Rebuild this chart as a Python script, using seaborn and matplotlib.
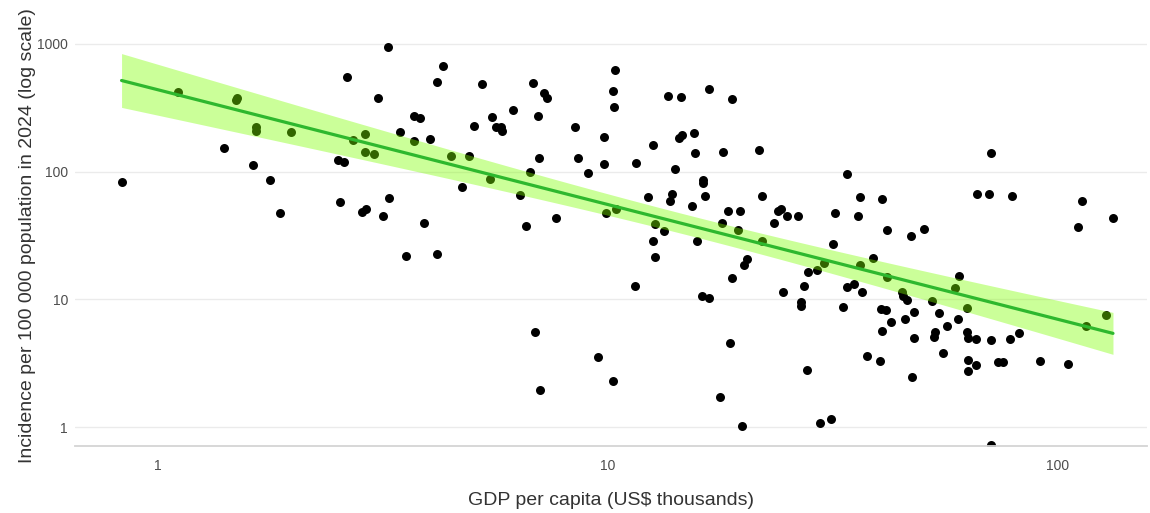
import numpy as np
import pandas as pd
import matplotlib
matplotlib.use("Agg")
import matplotlib.pyplot as plt
from matplotlib.ticker import FixedLocator, FuncFormatter, NullLocator
import seaborn as sns

# GDP per capita (US$ thousands) for each country
gdp_thousands = [
    2.63, 1.11, 1.50, 1.49, 1.65, 1.65, 1.98, 1.40, 1.63, 2.51, 2.59, 0.83, 1.77, 2.54, 1.87,
    3.25, 4.30, 4.17, 5.25, 6.81, 7.21, 7.32, 10.36, 10.26, 10.31, 3.08, 3.71, 3.82, 5.52, 6.15,
    6.99, 5.04, 5.64, 5.78, 5.81, 8.45, 3.45, 4.02, 3.71, 2.88, 2.71, 2.88, 3.02, 9.80, 4.48,
    4.91, 7.03, 8.58, 9.80, 11.54, 6.71, 9.03, 5.47, 4.74, 6.37, 3.26, 2.84, 2.90, 3.16, 3.90,
    6.57, 7.66, 9.90, 10.42,
    16.8, 13.6, 14.5, 18.9, 15.5, 14.4, 14.6, 12.6, 15.6, 18.0, 21.7, 14.1, 16.3, 16.3, 34.0,
    12.3, 13.9, 13.7, 16.4, 22.0, 15.4, 18.5, 19.7, 23.9, 24.2, 25.0, 26.4, 32.0, 35.9, 36.3,
    40.6, 23.4, 17.9, 12.7, 13.3, 19.5, 41.7,
    71.0, 66.1, 70.3, 79.0, 113.0, 132.5, 110.8, 50.4,
    47.1, 12.6, 12.7, 15.8, 22.0, 31.6, 20.4, 20.1, 18.9, 11.5, 16.2, 16.8, 24.5, 27.8, 29.1,
    30.2, 27.3, 38.8, 36.3, 41.7, 34.0, 35.2, 36.7, 45.0, 45.2, 46.2, 26.9, 26.9, 33.3, 40.4,
    41.5, 47.9, 42.6, 45.7, 40.6, 47.9, 18.7, 37.6, 40.2, 27.7, 47.4, 17.7, 19.9, 29.6, 31.3,
    60.3, 59.0, 52.5, 62.8, 54.4, 60.0, 56.7, 53.3, 53.0, 62.8, 63.1, 65.7, 71.0, 78.2, 81.9,
    55.5, 63.1, 63.1, 65.7, 73.6, 75.5, 91.2, 105.2, 115.4, 127.9, 71.0,
    3.56, 4.17, 6.88, 9.50, 10.26, 7.06,
]

# Incidence per 100 000 population in 2024, same country order
incidence = [
    550, 420, 377, 364, 223, 208, 204, 153, 113, 123, 119, 83, 86, 57.8, 47.4,
    946, 671, 503, 485, 494, 412, 377, 625, 428, 320, 377, 272, 263, 268, 304,
    272, 228, 223, 223, 208, 223, 204, 180, 174, 197, 177, 142, 137, 187, 132,
    132, 128, 128, 115, 117, 99.3, 97.5, 87.5, 75.7, 65.6, 62.1, 48.3, 51.0, 44.9, 39.6,
    37.5, 43.3, 47.4, 51.0,
    443, 391, 384, 370, 200, 183, 194, 162, 140, 142, 148, 105, 86, 81.4, 95.8,
    63.2, 66.8, 58.9, 64.4, 64.4, 53.8, 49.1, 49.1, 49.1, 51.0, 44.9, 44.9, 47.4, 44.9, 63.2,
    61.0, 39.6, 39.6, 38.9, 34.3, 34.9, 34.9,
    140, 66.8, 66.8, 64.4, 58.9, 43.3, 36.8, 35.5,
    31.3, 28.6, 21.4, 28.6, 28.6, 27.1, 20.7, 18.6, 14.7, 12.7, 10.6, 10.2, 11.4, 16.4, 17.0,
    19.2, 12.7, 21.1, 18.6, 14.9, 12.5, 13.2, 11.4, 11.4, 10.6, 9.9, 9.5, 8.9, 8.7, 8.4,
    8.2, 7.95, 6.6, 7.0, 5.6, 4.98, 4.55, 3.6, 3.29, 2.79, 2.46, 1.72, 1.02, 1.07, 1.155,
    15.2, 12.3, 9.7, 8.55, 7.8, 7.0, 6.18, 5.55, 5.07, 5.55, 4.98, 4.89, 4.80, 4.89, 5.45,
    3.8, 3.35, 2.75, 3.06, 3.23, 3.23, 3.29, 3.11, 6.18, 7.54, 0.72,
    21.8, 22.6, 5.55, 3.53, 2.29, 1.95,
]

x_ticks = [1, 10, 100]
y_ticks = [1, 10, 100, 1000]
x_label = "GDP per capita (US$ thousands)"
y_label = "Incidence per 100 000 population in 2024 (log scale)"

df = pd.DataFrame({"gdp": gdp_thousands, "incidence": incidence})

sns.set_style("white")
plt.rcParams["font.family"] = ["Liberation Sans", "DejaVu Sans"]

fig = plt.figure(figsize=(11.5, 5.13), dpi=100)
ax = fig.add_axes([0.0652, 0.1306, 0.9322, 0.8187])
ax.set_xscale("log")
ax.set_yscale("log")
ax.set_axisbelow(True)

sns.scatterplot(data=df, x="gdp", y="incidence", ax=ax, color="black",
                s=42, linewidth=0, zorder=2)

# Least-squares fit of log10(incidence) on log10(gdp) with a 95 % confidence band
lx = np.log10(df["gdp"].to_numpy())
ly = np.log10(df["incidence"].to_numpy())
n = len(lx)
slope, intercept = np.polyfit(lx, ly, 1)
resid = ly - (slope * lx + intercept)
sigma = np.sqrt(np.sum(resid ** 2) / (n - 2))
xbar = lx.mean()
sxx = np.sum((lx - xbar) ** 2)
grid = np.linspace(lx.min(), lx.max(), 200)
fit = slope * grid + intercept
se = sigma * np.sqrt(1.0 / n + (grid - xbar) ** 2 / sxx)
t_crit = 1.973

ax.fill_between(10 ** grid, 10 ** (fit - t_crit * se), 10 ** (fit + t_crit * se),
                color="#7fff00", alpha=0.4, linewidth=0, zorder=3)
sns.lineplot(x=10 ** grid, y=10 ** fit, ax=ax, color="#2eb82e", linewidth=2.3,
             zorder=4, legend=False)

ax.set_xlim(0.654, 157.7)
ax.set_ylim(0.71, 1380)

fmt = FuncFormatter(lambda v, _: f"{v:g}")
ax.xaxis.set_major_locator(FixedLocator(x_ticks))
ax.yaxis.set_major_locator(FixedLocator(y_ticks))
ax.xaxis.set_minor_locator(NullLocator())
ax.yaxis.set_minor_locator(NullLocator())
ax.xaxis.set_major_formatter(fmt)
ax.yaxis.set_major_formatter(fmt)

ax.yaxis.grid(True, color="#ebebeb", linewidth=1.0)
ax.xaxis.grid(False)
for side in ("left", "top", "right"):
    ax.spines[side].set_visible(False)
ax.spines["bottom"].set_color("#d4d4d4")
ax.spines["bottom"].set_linewidth(1.3)

ax.tick_params(axis="y", length=0, pad=5, labelsize=10, labelcolor="#4d4d4d")
ax.tick_params(axis="x", length=3, width=1, color="#c8c8c8", pad=6,
               labelsize=10, labelcolor="#4d4d4d")

ax.set_xlabel(x_label, fontsize=14, color="#333333", labelpad=14)
ax.set_ylabel(y_label, fontsize=14, color="#333333", labelpad=1)

fig.savefig("out.png", dpi=100)
